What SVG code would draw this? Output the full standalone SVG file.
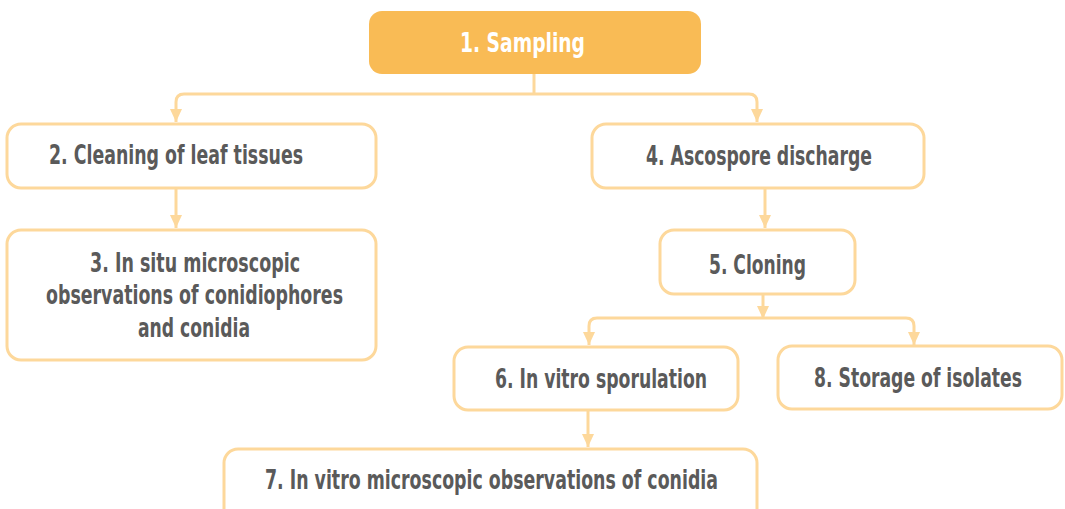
<svg xmlns="http://www.w3.org/2000/svg" width="1065" height="509" viewBox="0 0 1065 509">
<style>
.box{fill:#ffffff;stroke:#FDD89B;stroke-width:3}
.main{fill:#F9BB55;stroke:none}
.t{font-family:"DejaVu Sans Condensed","Liberation Sans Narrow","Liberation Sans",sans-serif;font-weight:bold;font-size:26px;fill:#5A5A5A}
.w{fill:#ffffff}
.c{fill:none;stroke:#FDD89B;stroke-width:3;stroke-linejoin:round}
</style>
<defs>
<marker id="a" markerWidth="13" markerHeight="12" refX="13" refY="6" orient="auto" markerUnits="userSpaceOnUse" viewBox="0 0 13 12">
<path d="M0,0 L13,6 L0,12 Z" fill="#FDD89B"/>
</marker>
</defs>
<g id="connectors">
<path class="c" d="M534,74 V94"/>
<path class="c" d="M534,94 H184 Q176,94 176,102 V122" marker-end="url(#a)"/>
<path class="c" d="M534,94 H749 Q757,94 757,102 V122" marker-end="url(#a)"/>
<path class="c" d="M176,188 V228" marker-end="url(#a)"/>
<path class="c" d="M765,188 V228" marker-end="url(#a)"/>
<path class="c" d="M763,294 V319" marker-end="url(#a)"/>
<path class="c" d="M763,318 H597 Q589,318 589,326 V345" marker-end="url(#a)"/>
<path class="c" d="M763,318 H906 Q914,318 914,326 V345" marker-end="url(#a)"/>
<path class="c" d="M588,410 V447" marker-end="url(#a)"/>
</g>
<g id="n1">
<rect class="main" x="369" y="11" width="332" height="63" rx="13"/>
<text class="t w" x="460" y="52" textLength="125" lengthAdjust="spacingAndGlyphs">1. Sampling</text>
</g>
<g id="n2">
<rect class="box" x="7" y="124" width="369" height="64" rx="14"/>
<text class="t" x="49" y="164" textLength="254" lengthAdjust="spacingAndGlyphs">2. Cleaning of leaf tissues</text>
</g>
<g id="n3">
<rect class="box" x="7" y="230" width="369" height="130" rx="14"/>
<text class="t" x="90" y="272" textLength="210" lengthAdjust="spacingAndGlyphs">3. In situ microscopic</text>
<text class="t" x="46" y="304" textLength="297" lengthAdjust="spacingAndGlyphs">observations of conidiophores</text>
<text class="t" x="138" y="337" textLength="112" lengthAdjust="spacingAndGlyphs">and conidia</text>
</g>
<g id="n4">
<rect class="box" x="592" y="124" width="332" height="64" rx="14"/>
<text class="t" x="646" y="165" textLength="226" lengthAdjust="spacingAndGlyphs">4. Ascospore discharge</text>
</g>
<g id="n5">
<rect class="box" x="660" y="230" width="195" height="64" rx="14"/>
<text class="t" x="709" y="274" textLength="97" lengthAdjust="spacingAndGlyphs">5. Cloning</text>
</g>
<g id="n6">
<rect class="box" x="454" y="347" width="284" height="63" rx="14"/>
<text class="t" x="495" y="388" textLength="212" lengthAdjust="spacingAndGlyphs">6. In vitro sporulation</text>
</g>
<g id="n8">
<rect class="box" x="778" y="346" width="284" height="63" rx="14"/>
<text class="t" x="814" y="387" textLength="208" lengthAdjust="spacingAndGlyphs">8. Storage of isolates</text>
</g>
<g id="n7">
<rect class="box" x="224" y="449" width="533" height="80" rx="14"/>
<text class="t" x="265" y="489" textLength="453" lengthAdjust="spacingAndGlyphs">7. In vitro microscopic observations of conidia</text>
</g>
</svg>
